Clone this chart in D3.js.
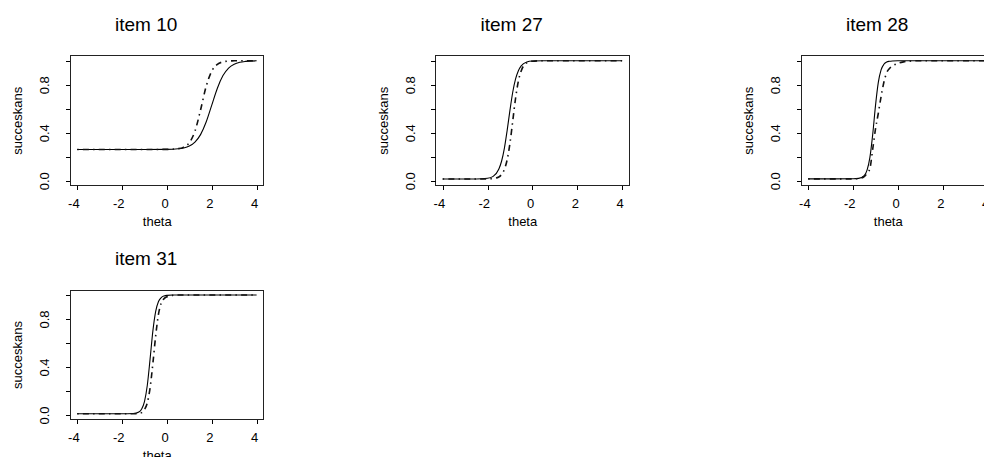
<!DOCTYPE html>
<html>
<head>
<meta charset="utf-8">
<script src="https://cdn.jsdelivr.net/npm/d3@7"></script>
<style>
  html, body { margin: 0; padding: 0; background: #fff; }
  svg { display: block; }
  text { font-family: "Liberation Sans", Arial, Helvetica, sans-serif; fill: #000; }
</style>
</head>
<body>
<svg id="chart" width="984" height="457"></svg>
<script>
// Item characteristic curves: success probability against ability (theta)
const itemNames = ["item 10", "item 27", "item 28", "item 31"];

const item10Theta  = [-4, -3, -2, -1, 0, 0.5, 0.75, 1, 1.25, 1.5, 1.75, 2, 2.25, 2.5, 2.75, 3, 3.25, 3.5, 4];
const item10Solid  = [0.26, 0.26, 0.26, 0.26, 0.261, 0.266, 0.273, 0.289, 0.322, 0.384, 0.489, 0.63, 0.771, 0.876, 0.939, 0.971, 0.987, 0.994, 0.999];
const item10Dashed = [0.26, 0.26, 0.26, 0.26, 0.261, 0.267, 0.28, 0.317, 0.412, 0.589, 0.786, 0.913, 0.97, 0.99, 0.997, 0.999, 1, 1, 1];

const item27Theta  = [-4, -3, -2.5, -2, -1.75, -1.5, -1.375, -1.25, -1.125, -1, -0.875, -0.75, -0.625, -0.5, -0.25, 0, 0.5, 1, 2, 3, 4];
const item27Solid  = [0.014, 0.014, 0.014, 0.02, 0.036, 0.095, 0.162, 0.27, 0.42, 0.588, 0.739, 0.848, 0.917, 0.957, 0.989, 0.997, 1, 1, 1, 1, 1];
const item27Dashed = [0.014, 0.014, 0.014, 0.015, 0.018, 0.031, 0.052, 0.094, 0.175, 0.313, 0.499, 0.687, 0.83, 0.915, 0.982, 0.996, 1, 1, 1, 1, 1];

const item28Theta  = [-4, -3, -2, -1.75, -1.5, -1.375, -1.25, -1.125, -1, -0.875, -0.75, -0.625, -0.5, -0.375, -0.25, 0, 0.25, 0.5, 1, 2, 3, 4];
const item28Solid  = [0.015, 0.015, 0.016, 0.019, 0.043, 0.088, 0.192, 0.382, 0.624, 0.817, 0.924, 0.97, 0.989, 0.995, 0.998, 1, 1, 1, 1, 1, 1, 1];
const item28Dashed = [0.015, 0.015, 0.015, 0.018, 0.035, 0.06, 0.10, 0.26, 0.43, 0.56, 0.70, 0.82, 0.90, 0.935, 0.955, 0.978, 0.99, 0.996, 1, 1, 1, 1];

const item31Theta  = [-4, -3, -2, -1.5, -1.25, -1.125, -1, -0.875, -0.75, -0.625, -0.5, -0.375, -0.25, -0.125, 0, 0.25, 0.5, 1, 2, 3, 4];
const item31Solid  = [0.01, 0.01, 0.01, 0.012, 0.025, 0.05, 0.112, 0.246, 0.466, 0.701, 0.864, 0.946, 0.979, 0.992, 0.997, 1, 1, 1, 1, 1, 1];
const item31Dashed = [0.01, 0.01, 0.01, 0.01, 0.013, 0.02, 0.045, 0.10, 0.225, 0.43, 0.66, 0.84, 0.935, 0.97, 0.985, 0.997, 1, 1, 1, 1, 1];

const xTicks = [-4, -2, 0, 2, 4];
const xTickLabels = ["-4", "-2", "0", "2", "4"];
const yTicks = [0, 0.2, 0.4, 0.6, 0.8, 1.0];
const yTickLabels = ["0.0", "", "0.4", "", "0.8", ""];
const xLabel = "theta";
const yLabel = "succeskans";

const panels = [
  { name: itemNames[0], theta: item10Theta, solid: item10Solid, dashed: item10Dashed },
  { name: itemNames[1], theta: item27Theta, solid: item27Solid, dashed: item27Dashed },
  { name: itemNames[2], theta: item28Theta, solid: item28Solid, dashed: item28Dashed },
  { name: itemNames[3], theta: item31Theta, solid: item31Solid, dashed: item31Dashed }
];

// grid geometry (3 columns, 2 rows)
const colStep = 365.5, rowStep = 234.3;
const boxLeft0 = 70, boxW = 193.8;
const boxTop0 = 55.9, boxH = 129.6;
const tick = 4.5;

const svg = d3.select("#chart");

// horizontal texts sit a third of their width left of their anchor
function shiftLeft(sel) {
  sel.each(function () {
    const len = this.getComputedTextLength();
    d3.select(this).attr("dx", -len / 3);
  });
}

panels.forEach((p, i) => {
  const col = i % 3, row = Math.floor(i / 3);
  const left = boxLeft0 + col * colStep;
  const top = boxTop0 + row * rowStep;
  const bottom = top + boxH;

  // 4% padding around the data range on both axes
  const x = d3.scaleLinear().domain([-4.32, 4.32]).range([left, left + boxW]);
  const y = d3.scaleLinear().domain([-0.04, 1.04]).range([bottom, top]);

  const g = svg.append("g");

  const line = d3.line()
    .x((d, k) => x(p.theta[k]))
    .y(d => y(d))
    .curve(d3.curveMonotoneX);

  g.append("path")
    .attr("d", line(p.solid))
    .attr("fill", "none")
    .attr("stroke", "#000")
    .attr("stroke-width", 1.1);

  g.append("path")
    .attr("d", line(p.dashed))
    .attr("fill", "none")
    .attr("stroke", "#111")
    .attr("stroke-width", 1.6)
    .attr("stroke-dasharray", "1.5,4.2,6,4.2");

  // plot frame
  g.append("rect")
    .attr("x", left).attr("y", top)
    .attr("width", boxW).attr("height", boxH)
    .attr("fill", "none")
    .attr("stroke", "#222")
    .attr("stroke-width", 1)
    .attr("shape-rendering", "crispEdges");

  // x axis
  const xa = g.append("g")
    .attr("transform", `translate(0,${bottom})`)
    .call(d3.axisBottom(x).tickValues(xTicks).tickSize(tick).tickSizeOuter(0)
      .tickFormat((d, k) => xTickLabels[k]));
  xa.select(".domain").remove();
  xa.selectAll("line").attr("stroke", "#000").attr("shape-rendering", "crispEdges");
  xa.selectAll("text")
    .attr("y", 22.5).attr("dy", null)
    .attr("font-size", 13)
    .attr("font-family", "Liberation Sans, Arial, sans-serif")
    .attr("fill", "#000")
    .call(shiftLeft);

  // y axis
  const ya = g.append("g")
    .attr("transform", `translate(${left},0)`)
    .call(d3.axisLeft(y).tickValues(yTicks).tickSize(tick).tickSizeOuter(0)
      .tickFormat((d, k) => yTickLabels[k]));
  ya.select(".domain").remove();
  ya.selectAll("line").attr("stroke", "#000").attr("shape-rendering", "crispEdges");
  ya.selectAll("text")
    .attr("x", null).attr("dy", null)
    .attr("transform", "translate(-20.7,0) rotate(-90)")
    .attr("text-anchor", "middle")
    .attr("font-size", 13)
    .attr("font-family", "Liberation Sans, Arial, sans-serif")
    .attr("fill", "#000");

  // axis titles
  g.append("text")
    .attr("x", left + boxW / 2)
    .attr("y", bottom + 40.5)
    .attr("text-anchor", "middle")
    .attr("font-size", 13)
    .text(xLabel)
    .call(shiftLeft);

  g.append("text")
    .attr("transform", `translate(${left - 48},${top + boxH / 2}) rotate(-90)`)
    .attr("text-anchor", "middle")
    .attr("font-size", 13)
    .text(yLabel);

  // panel title
  g.append("text")
    .attr("x", left + boxW / 2)
    .attr("y", top - 25)
    .attr("text-anchor", "middle")
    .attr("font-size", 19)
    .text(p.name)
    .call(shiftLeft);
});
</script>
</body>
</html>
